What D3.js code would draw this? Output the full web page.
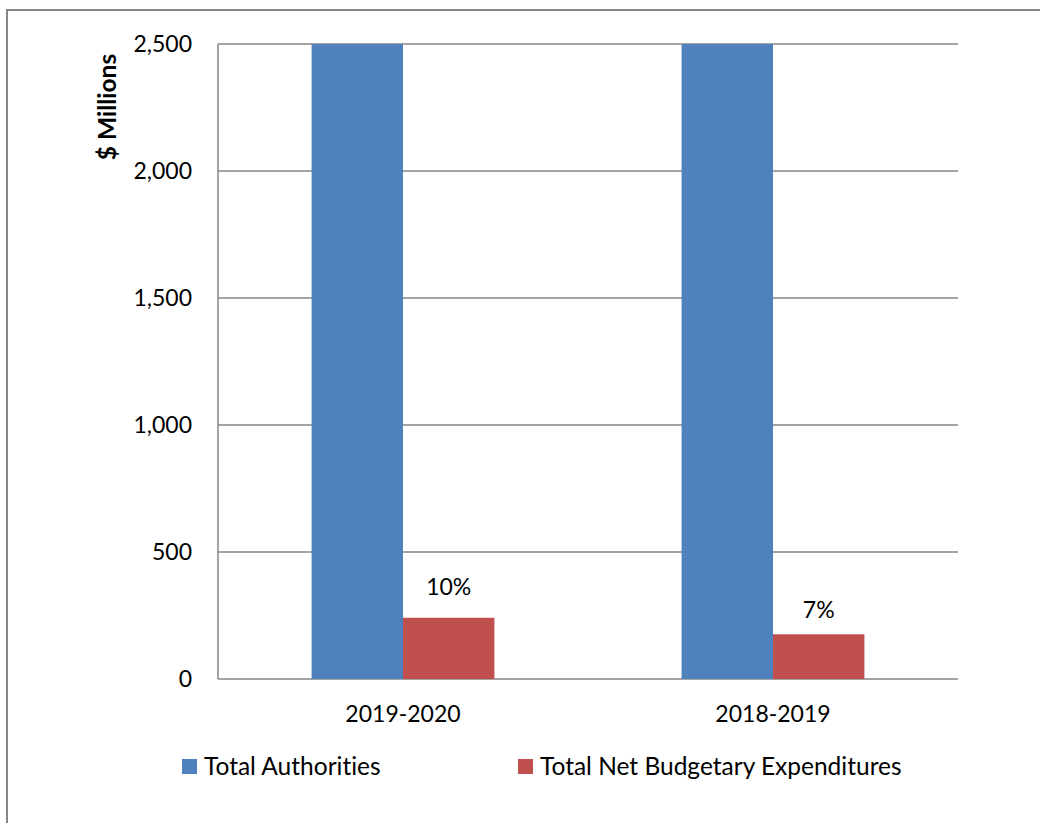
<!DOCTYPE html>
<html>

<head>
    <meta charset="UTF-8">
    <script src="https://d3js.org/d3.v7.min.js"></script>
    <style>
        body {
            margin: 0;
            background-color: #ffffff;
        }

        text {
            font-family: Lato, 'Open Sans', sans-serif;
            font-variant-ligatures: none;
            fill: #000;
        }
    </style>
</head>

<body>
    <svg id="chart" width="1040" height="823"></svg>
    <script>
        // chart values
        var years = ["2019-2020", "2018-2019"];
        var seriesNames = ["Total Authorities", "Total Net Budgetary Expenditures"];
        var authorities = [2520, 2530];
        var expenditures = [241, 176];
        var shareLabels = ["10%", "7%"];
        var yTicks = [0, 500, 1000, 1500, 2000, 2500];

        var colors = ["#4f81bd", "#c0504d"];
        var gridColor = "#868686";

        var plotLeft = 218, plotRight = 958, plotTop = 44, plotBottom = 679;
        var fontSize = 23;

        var svg = d3.select("#chart");

        // outer frame of the chart
        svg.append("rect")
            .attr("x", 7)
            .attr("y", 10)
            .attr("width", 1060)
            .attr("height", 840)
            .attr("fill", "none")
            .attr("stroke", gridColor)
            .attr("stroke-width", 2);

        var y = d3.scaleLinear()
            .domain([0, 2500])
            .range([plotBottom, plotTop])
            .clamp(true);

        var x0 = d3.scaleBand()
            .domain(years)
            .range([plotLeft, plotRight]);

        var bw = x0.bandwidth();
        var x1 = d3.scaleBand()
            .domain(seriesNames)
            .range([bw * 0.253, bw * 0.747]);

        // gridlines
        svg.append("g")
            .selectAll("line")
            .data(yTicks)
            .enter()
            .append("line")
            .attr("x1", plotLeft)
            .attr("x2", plotRight)
            .attr("y1", function (d) { return y(d); })
            .attr("y2", function (d) { return y(d); })
            .attr("stroke", gridColor)
            .attr("stroke-width", 1.5);

        // left axis line
        svg.append("line")
            .attr("x1", plotLeft).attr("x2", plotLeft)
            .attr("y1", plotTop).attr("y2", plotBottom)
            .attr("stroke", gridColor)
            .attr("stroke-width", 1.5);

        // y axis labels
        var yAxis = svg.append("g")
            .attr("transform", "translate(" + plotLeft + ",0)")
            .call(d3.axisLeft(y).tickValues(yTicks).tickFormat(d3.format(",")).tickSize(0).tickPadding(26));
        yAxis.select(".domain").remove();
        yAxis.selectAll("text")
            .style("font-family", "Lato, 'Open Sans', sans-serif")
            .style("font-size", fontSize + "px")
            .attr("fill", "#000");

        // bars
        var rows = years.map(function (yr, i) {
            return { year: yr, values: [authorities[i], expenditures[i]], label: shareLabels[i] };
        });

        var groups = svg.append("g")
            .selectAll("g")
            .data(rows)
            .enter()
            .append("g")
            .attr("transform", function (d) { return "translate(" + x0(d.year) + ",0)"; });

        groups.selectAll("rect")
            .data(function (d) { return d.values.map(function (v, j) { return { name: seriesNames[j], value: v }; }); })
            .enter()
            .append("rect")
            .attr("x", function (d) { return x1(d.name); })
            .attr("width", x1.bandwidth())
            .attr("y", function (d) { return y(d.value); })
            .attr("height", function (d) { return plotBottom - y(d.value); })
            .attr("fill", function (d, j) { return colors[j]; });

        // percentage labels over the red bars
        var labelLift = [23, 16];
        groups.append("text")
            .attr("x", x1(seriesNames[1]) + x1.bandwidth() / 2)
            .attr("y", function (d, i) { return y(d.values[1]) - labelLift[i]; })
            .attr("text-anchor", "middle")
            .style("font-size", fontSize + "px")
            .text(function (d) { return d.label; });

        // category labels
        svg.append("g")
            .selectAll("text")
            .data(years)
            .enter()
            .append("text")
            .attr("x", function (d) { return x0(d) + bw / 2; })
            .attr("y", 722)
            .attr("text-anchor", "middle")
            .style("font-size", fontSize + "px")
            .text(function (d) { return d; });

        // y axis title
        svg.append("text")
            .attr("transform", "translate(116,107) rotate(-90)")
            .attr("text-anchor", "middle")
            .style("font-size", "24.5px")
            .style("font-weight", "bold")
            .text("$ Millions");

        // legend
        var legendX = [182, 518];
        var legend = svg.append("g")
            .selectAll("g")
            .data(seriesNames)
            .enter()
            .append("g")
            .attr("transform", function (d, i) { return "translate(" + legendX[i] + ",759)"; });

        legend.append("rect")
            .attr("width", 15)
            .attr("height", 15)
            .attr("fill", function (d, i) { return colors[i]; });

        legend.append("text")
            .attr("x", 22)
            .attr("y", 16)
            .style("font-size", "24.5px")
            .text(function (d) { return d; });
    </script>
</body>

</html>
